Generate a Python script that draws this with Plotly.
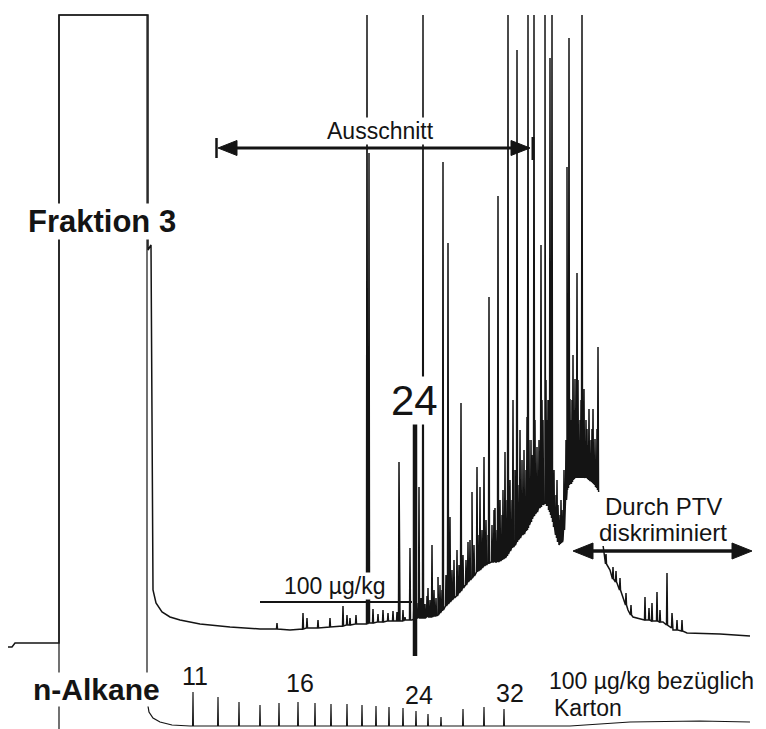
import plotly.graph_objects as go

W, H = 766, 729
FONT = "Liberation Sans, Arial, sans-serif"
INK = "#141414"

# ---------------- Fraktion 3 chromatogram (retention units, signal units) ----------------
# envelope / baseline of the trace
frak_env_t = [8, 12, 15, 59, 59, 148, 148, 151, 153, 156, 162, 170,
              180, 200, 230, 260, 290, 310, 340, 360, 380, 400,
              412, 425, 438, 445, 460, 472, 488, 503, 515, 525,
              533, 540, 545, 550, 555, 559, 563, 567, 575, 585,
              592, 598, 603, 605, 610, 617, 623, 628, 633, 647,
              663, 673, 687, 720, 750]
frak_env_s = [82, 82, 86, 86, 714, 714, 479, 484, 139, 126, 117, 112,
              109, 105, 102, 100, 99, 101, 103, 105, 107, 108,
              109, 111, 114, 122, 137, 151, 166, 169, 184, 197,
              213, 222, 227, 217, 197, 184, 189, 237, 251, 252,
              247, 239, 184, 169, 159, 146, 132, 119, 112, 109,
              107, 99, 96, 95, 93]

# peaks: retention, foot level, apex level
frak_pk_t = [277, 303, 307, 318, 330, 343, 347, 350, 356, 367, 369, 373, 378, 383, 388, 393, 397, 399, 403, 405, 410,
             414, 416, 418, 419, 421, 423, 425, 427, 428, 430, 432, 434, 436, 438, 440, 442, 443, 446, 448, 450,
             452, 454, 457, 459, 461, 463, 466, 468, 470, 472, 474, 477, 478, 480, 482, 484, 486, 488, 489, 492,
             494, 495, 497, 498, 500, 502, 503, 505, 507, 508, 510, 512, 513, 515, 517, 518, 520, 522, 524, 526,
             527, 528, 529, 531, 532, 534, 535, 537, 539, 541, 542, 543, 545, 546, 547, 548, 549, 550, 551, 552,
             553, 554, 556, 557, 558, 560, 561, 562, 564, 566, 567, 568, 569, 570, 571, 572, 573, 574, 575, 576,
             577, 578, 579, 580, 581, 582, 583, 584, 585, 586, 587, 588, 589, 591, 592, 593, 594, 595, 596, 597, 598,
             606, 613, 616, 620, 626, 631, 645, 649, 652, 657, 660, 667, 672, 677, 682]
frak_pk_base = [100, 100, 101, 101, 102, 103, 104, 104, 105, 105, 106, 106, 107, 107, 108, 108, 108, 108, 108, 109, 109,
                110, 111, 111, 111, 111, 111, 111, 112, 112, 112, 112, 113, 113, 114, 116, 118, 119, 123, 125, 127,
                129, 131, 133, 136, 138, 141, 144, 147, 149, 151, 153, 157, 158, 159, 161, 163, 164, 165, 166, 167,
                167, 167, 167, 167, 168, 169, 170, 171, 173, 175, 178, 181, 182, 184, 187, 189, 191, 194, 195, 198,
                199, 201, 204, 207, 210, 213, 215, 217, 221, 222, 224, 224, 226, 225, 223, 223, 219, 217, 214, 211,
                207, 202, 194, 191, 187, 185, 186, 187, 199, 229, 239, 241, 244, 245, 245, 247, 249, 250, 251, 251,
                251, 251, 251, 251, 251, 251, 251, 251, 251, 251, 251, 250, 249, 248, 247, 246, 245, 244, 242, 241, 239,
                165, 150, 147, 139, 124, 114, 109, 109, 108, 108, 107, 104, 101, 99, 98]
frak_pk_top = [106, 116, 111, 109, 111, 123, 114, 111, 114, 714, 576, 120, 115, 119, 116, 118, 117, 267, 119, 112, 181,
               129, 134, 126, 242, 131, 714, 125, 133, 141, 129, 184, 139, 131, 152, 144, 139, 567, 154, 486, 212,
               159, 169, 179, 164, 326, 174, 169, 187, 189, 237, 184, 262, 194, 242, 199, 272, 209, 194, 432, 204,
               219, 221, 199, 533, 229, 214, 239, 277, 229, 714, 249, 229, 329, 259, 679, 244, 299, 269, 279, 259,
               312, 714, 289, 289, 274, 714, 309, 282, 289, 484, 329, 309, 714, 349, 309, 329, 329, 671, 289, 714,
               252, 259, 234, 249, 224, 214, 229, 219, 259, 289, 562, 299, 691, 330, 309, 329, 374, 319, 350, 299,
               456, 349, 289, 309, 329, 714, 299, 340, 269, 309, 300, 284, 320, 289, 300, 320, 269, 290, 259, 300, 382,
               175, 162, 158, 151, 136, 124, 132, 121, 126, 137, 119, 156, 116, 109, 109]

# ---------------- n-Alkane standard trace ----------------
alk_env_t = [59, 59, 147, 147, 149, 153, 160, 172, 190, 540, 570, 600, 630, 700, 750]
alk_env_s = [-11, 714, 714, 29, 17, 11, 7, 4, 3, 3, 3, 5, 7, 8, 7]
alk_c = [11, 12, 13, 14, 15, 16, 17, 18, 19, 20, 21, 22, 23, 24, 25, 26, 28, 30, 32]
alk_t = [193, 218, 239, 260, 279, 298, 315, 331, 347, 362, 376, 389, 403, 416, 428, 441, 463, 484, 504]
alk_top = [37, 32, 27, 24, 26, 27, 26, 25, 25, 24, 23, 22, 21, 18, 15, 12, 20, 22, 20]
alk_base = [3] * len(alk_t)
alk_labelled = [11, 16, 24, 32]
alk_label_s = [53, 46, 34, 36]
alk_label_dt = [2, 2, 3, 6]

# C24 marker in the Fraktion-3 trace (signal span)
c24_mark_lo, c24_mark_hi = 73, 307


def spiked(env_t, env_s, pk_t, pk_b, pk_top, half):
    # envelope is non-decreasing in t; stable sort keeps vertical steps in order
    pts = list(zip(env_t, env_s))
    for t, b, top in zip(pk_t, pk_b, pk_top):
        pts += [(t - half, b), (t, top), (t + half, b)]
    pts.sort(key=lambda p: p[0])
    return [p[0] for p in pts], [p[1] for p in pts]


fx, fy = spiked(frak_env_t, frak_env_s, frak_pk_t, frak_pk_base, frak_pk_top, 0.5)
ax_, ay_ = spiked(alk_env_t, alk_env_s, alk_t, alk_base, alk_top, 0.4)

fig = go.Figure()
fig.add_trace(go.Scatter(x=fx, y=fy, mode="lines", line=dict(color=INK, width=1.5), hoverinfo="skip"))
fig.add_trace(go.Scatter(x=ax_, y=ay_, mode="lines", line=dict(color=INK, width=1.2), hoverinfo="skip"))
c24_t = alk_t[alk_c.index(24)] - 1
fig.add_trace(go.Scatter(x=[c24_t, c24_t], y=[c24_mark_lo, c24_mark_hi], mode="lines",
                         line=dict(color=INK, width=4.5), hoverinfo="skip"))

shapes = []
def seg(x0, y0, x1, y1, w):
    shapes.append(dict(type="line", x0=x0, y0=y0, x1=x1, y1=y1, xref="x", yref="y",
                       line=dict(color=INK, width=w), layer="above"))
def tri(p):
    shapes.append(dict(type="path", path=p, xref="x", yref="y", fillcolor=INK,
                       line=dict(color=INK, width=1), layer="above"))

# white panel behind "Durch PTV diskriminiert"
shapes.append(dict(type="rect", x0=594, x1=733, y0=183, y1=237, xref="x", yref="y",
                   fillcolor="white", line=dict(width=0), layer="above"))
# 100 µg/kg scale bar
seg(260, 127, 412, 127, 2)
# Ausschnitt arrow
seg(232, 581, 514, 581, 3)
seg(216.5, 571, 216.5, 591, 2.5)
seg(533, 569, 533, 592, 3)
tri("M 218 581 L 237 588.5 L 237 573.5 Z")
tri("M 530 581 L 511 588.5 L 511 573.5 Z")
# Durch PTV double arrow
seg(590, 178, 735, 178, 3.5)
tri("M 573 178 L 593 186 L 593 170 Z")
tri("M 752 178 L 732 186 L 732 170 Z")

ann = []
def txt(x, y, s, size, bold=False, bg=None, xanchor="center"):
    d = dict(x=x, y=y, xref="x", yref="y", text=("<b>%s</b>" % s) if bold else s, showarrow=False,
             font=dict(family=FONT, size=size, color=INK), xanchor=xanchor, yanchor="middle", borderpad=0)
    if bg:
        d["bgcolor"] = bg
    ann.append(d)

txt(102, 508, "Fraktion 3", 31, bold=True, bg="white")
txt(96, 40, "n-Alkane", 30, bold=True, bg="white")
txt(414, 329, "24", 42, bg="white")
txt(380, 598, "Ausschnitt", 23, bg="white")
txt(335, 143, "100 µg/kg", 23, bg="white")
txt(663, 223, "Durch PTV", 24)
txt(663, 197, "diskriminiert", 24)
for c, s_, dt in zip(alk_labelled, alk_label_s, alk_label_dt):
    txt(alk_t[alk_c.index(c)] + dt, s_, str(c), 25)
txt(548, 48, "100 µg/kg bezüglich", 23, xanchor="left")
txt(553, 21, "Karton", 23, xanchor="left")

fig.update_layout(
    width=W, height=H, margin=dict(l=0, r=0, t=0, b=0),
    paper_bgcolor="white", plot_bgcolor="white", showlegend=False,
    xaxis=dict(range=[0, W], visible=False, fixedrange=True),
    yaxis=dict(range=[0, H], visible=False, fixedrange=True),
    shapes=shapes, annotations=ann,
)
fig.write_html("out.html", config={"displayModeBar": False})
